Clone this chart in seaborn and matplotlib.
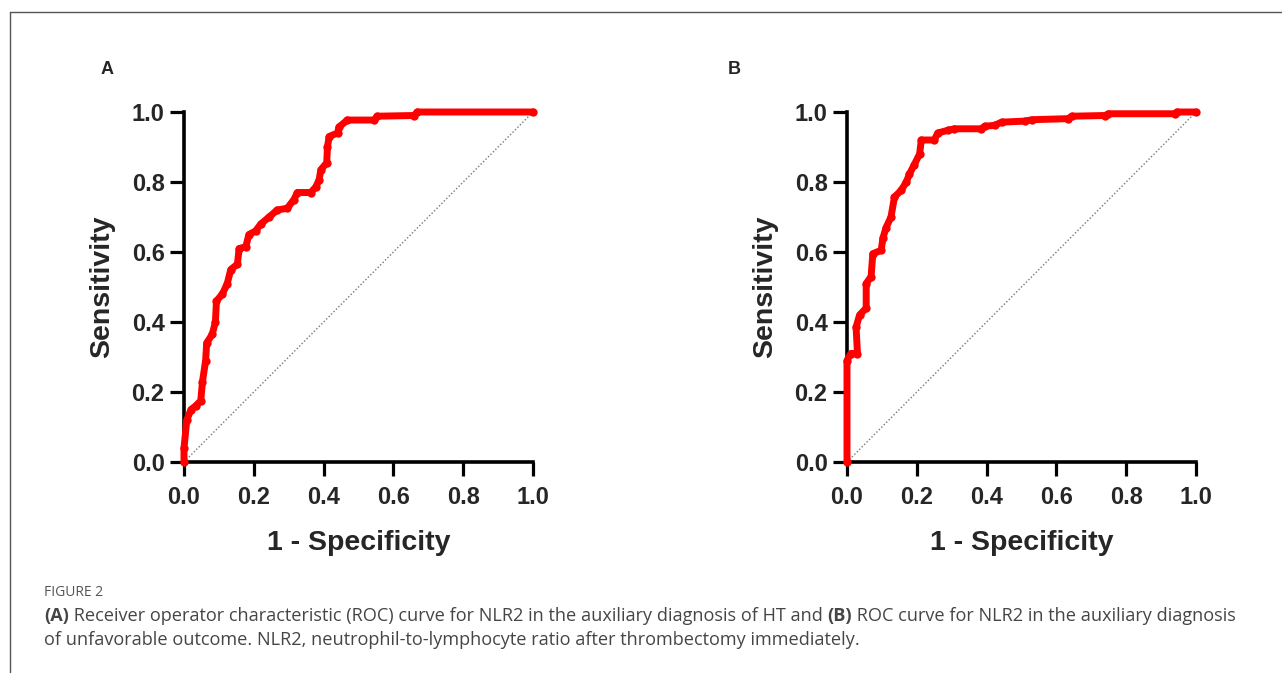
import pandas as pd
import matplotlib
matplotlib.use("Agg")
import matplotlib.pyplot as plt
import seaborn as sns

# ROC curve A: NLR2 for HT
fpr_a = [0.0, 0.0, 0.008, 0.02, 0.033, 0.048, 0.053, 0.062, 0.065, 0.081, 0.09, 0.093,
         0.11, 0.124, 0.134, 0.153, 0.158, 0.177, 0.186, 0.205, 0.22, 0.244, 0.267,
         0.296, 0.315, 0.325, 0.363, 0.377, 0.387, 0.392, 0.409, 0.411, 0.416, 0.44,
         0.444, 0.468, 0.544, 0.554, 0.659, 0.669, 1.0]
tpr_a = [0.0, 0.04, 0.12, 0.15, 0.16, 0.175, 0.23, 0.29, 0.34, 0.365, 0.40, 0.46,
         0.48, 0.51, 0.55, 0.565, 0.61, 0.615, 0.65, 0.66, 0.68, 0.70, 0.72,
         0.725, 0.75, 0.77, 0.77, 0.785, 0.805, 0.835, 0.855, 0.90, 0.93, 0.94,
         0.957, 0.977, 0.977, 0.988, 0.99, 1.0, 1.0]

# ROC curve B: NLR2 for unfavorable outcome
fpr_b = [0.0, 0.0, 0.011, 0.03, 0.026, 0.036, 0.055, 0.055, 0.069, 0.074, 0.098, 0.103,
         0.112, 0.126, 0.136, 0.155, 0.17, 0.179, 0.193, 0.208, 0.213, 0.25, 0.26,
         0.29, 0.308, 0.385, 0.394, 0.423, 0.443, 0.51, 0.53, 0.634, 0.644, 0.74,
         0.749, 0.94, 0.945, 1.0]
tpr_b = [0.0, 0.29, 0.31, 0.31, 0.385, 0.42, 0.44, 0.51, 0.53, 0.595, 0.605, 0.64,
         0.67, 0.70, 0.757, 0.776, 0.80, 0.823, 0.85, 0.88, 0.92, 0.92, 0.94,
         0.948, 0.952, 0.952, 0.959, 0.962, 0.971, 0.974, 0.978, 0.981, 0.988, 0.99,
         0.995, 0.995, 1.0, 1.0]

ticks = [0.0, 0.2, 0.4, 0.6, 0.8, 1.0]
tick_labels = ["0.0", "0.2", "0.4", "0.6", "0.8", "1.0"]

sns.set_style("ticks")
plt.rcParams['font.family'] = ['Liberation Sans', 'DejaVu Sans']

W, H = 1282, 673
fig = plt.figure(figsize=(W / 100, H / 100), dpi=100)

# frame lines around the figure (top and left)
fig.add_artist(plt.Line2D([10 / W, 1], [1 - 12 / H, 1 - 12 / H], color="#555555", lw=1))
fig.add_artist(plt.Line2D([10 / W, 10 / W], [0, 1 - 12 / H], color="#555555", lw=1))

panels = [("A", fpr_a, tpr_a, 184, 101), ("B", fpr_b, tpr_b, 847, 728)]
for letter, fx, ty, left_px, letter_px in panels:
    ax = fig.add_axes([left_px / W, (H - 462) / H, 349 / W, 350 / H])
    df = pd.DataFrame({"fpr": fx, "tpr": ty})
    ax.plot([0, 1], [0, 1], color="#777777", lw=1, ls=(0, (1, 1.5)), zorder=1)
    sns.lineplot(data=df, x="fpr", y="tpr", ax=ax, color="#ff0000", lw=5,
                 marker="o", markersize=6, markeredgewidth=0, sort=False,
                 estimator=None, zorder=3)
    ax.set_xlim(0, 1.0)
    ax.set_ylim(0, 1.0)
    ax.set_xticks(ticks)
    ax.set_yticks(ticks)
    ax.set_xticklabels(tick_labels, fontsize=17, fontweight="bold")
    ax.set_yticklabels(tick_labels, fontsize=17, fontweight="bold")
    ax.tick_params(width=2.3, length=10, color="black")
    ax.tick_params(axis="y", pad=4)
    ax.tick_params(axis="x", pad=7)
    for s in ["top", "right"]:
        ax.spines[s].set_visible(False)
    for s in ["left", "bottom"]:
        ax.spines[s].set_linewidth(2.6)
        ax.spines[s].set_color("black")
    ax.set_xlabel("1 - Specificity", fontsize=20.5, fontweight="bold", labelpad=15.5)
    ax.set_ylabel("Sensitivity", fontsize=20.5, fontweight="bold", labelpad=12)
    for t in ax.lines:
        t.set_clip_on(False)
    fig.text(letter_px / W, 1 - 70 / H, letter, fontsize=13, fontweight="bold",
             ha="left", va="center")

# caption
cap_font = ['Open Sans', 'DejaVu Sans']
fig.text(44 / W, 1 - 592 / H, "FIGURE 2", fontsize=10, color="#555555",
         family=cap_font, va="center")

fig.canvas.draw()
renderer = fig.canvas.get_renderer()


def write_line(parts, y_px):
    x = 44
    for txt, bold in parts:
        t = fig.text(x / W, 1 - y_px / H, txt, fontsize=13.1, color="#454545",
                     family=cap_font, fontweight="bold" if bold else "normal", va="center")
        bb = t.get_window_extent(renderer)
        x += bb.width


write_line([("(A)", True),
            (" Receiver operator characteristic (ROC) curve for NLR2 in the auxiliary diagnosis of HT and ", False),
            ("(B)", True),
            (" ROC curve for NLR2 in the auxiliary diagnosis", False)], 616)
write_line([("of unfavorable outcome. NLR2, neutrophil-to-lymphocyte ratio after thrombectomy immediately.", False)], 640)

fig.savefig("out.png", dpi=100, facecolor="white")
